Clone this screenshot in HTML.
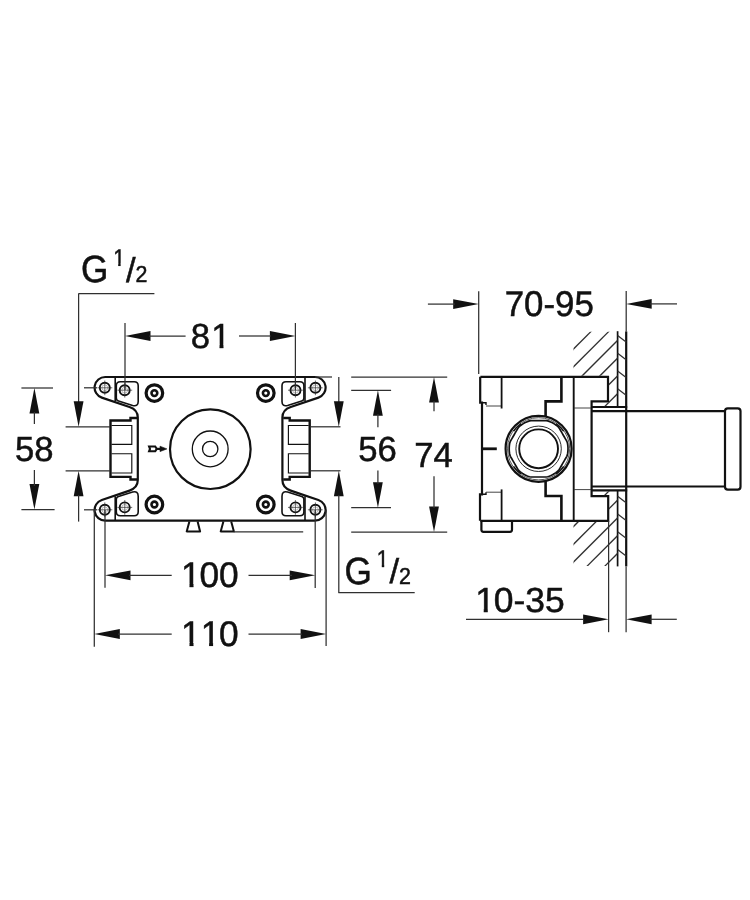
<!DOCTYPE html>
<html><head><meta charset="utf-8"><title>Dimension drawing</title>
<style>
html,body{margin:0;padding:0;background:#fff;}
body{width:750px;height:900px;overflow:hidden;}
svg{display:block;}
text{font-family:"Liberation Sans",sans-serif;fill:#111;text-rendering:geometricPrecision;}
svg{will-change:transform;}
</style></head><body>
<svg width="750" height="900" viewBox="0 0 750 900" stroke="#111" fill="none" stroke-linecap="butt">
<defs>
<clipPath id="hu"><polygon points="573.5,331.7 617.6,331.7 617.6,406.3 600,406.3 600,402.3 608.9,402.3 608.9,375.8 573.5,375.8"/></clipPath>
<clipPath id="hl"><polygon points="573.5,521.8 608.9,521.8 608.9,495.3 600,495.3 600,491.2 617.6,491.2 617.6,566 573.5,566"/></clipPath>
<clipPath id="one"><path d="M -5,-80 H 60 V -10 H 35.2 V 1.5 H 23.9 V -10 H -5 Z"/></clipPath>
<clipPath id="nut"><circle cx="538.6" cy="448.8" r="31.6"/></clipPath>
</defs>
<rect x="0" y="0" width="750" height="900" fill="#fff" stroke="none"/>
<path d="M 210.10,377.00 L 105.20,377.00 A 10.6 10.6 0 0 0 101.80,397.64 L 129.50,407.00 C 134.50,408.70 137.80,411.50 137.80,417.50 L 137.80,480.10 C 137.80,486.10 134.50,488.90 129.50,490.60 L 101.80,499.96 A 10.6 10.6 0 0 0 105.20,520.60 L 315.00,520.60 A 10.6 10.6 0 0 0 318.40,499.96 L 290.70,490.60 C 285.70,488.90 282.40,486.10 282.40,480.10 L 282.40,417.50 C 282.40,411.50 285.70,408.70 290.70,407.00 L 318.40,397.64 A 10.6 10.6 0 0 0 315.00,377.00 Z" stroke-width="2.2" fill="none" />
<line x1="115.2" y1="377.0" x2="115.2" y2="401.3" stroke-width="1.6" />
<circle cx="104.8" cy="387.8" r="5.0" stroke-width="1.9" fill="none"/>
<circle cx="104.8" cy="387.8" r="2.9" stroke-width="0.5" stroke="#777"/>
<line x1="104.8" y1="380.5" x2="104.8" y2="395.2" stroke-width="0.7"  stroke="#303030"/>
<line x1="97.5" y1="387.8" x2="112.3" y2="387.8" stroke-width="0.7"  stroke="#303030"/>
<circle cx="124.7" cy="390.2" r="5.0" stroke-width="1.9" fill="none"/>
<circle cx="124.7" cy="390.2" r="2.9" stroke-width="0.5" stroke="#777"/>
<line x1="124.8" y1="382.8" x2="124.8" y2="397.6" stroke-width="0.7"  stroke="#303030"/>
<line x1="117.4" y1="390.2" x2="132.2" y2="390.2" stroke-width="0.7"  stroke="#303030"/>
<path d="M 116.30,385.80 L 116.30,398.00 Q 116.30,400.30 118.50,401.00 L 132.60,405.50 Q 138.20,407.00 138.20,401.40 L 138.20,385.80 Q 138.20,381.80 134.20,381.80 L 120.30,381.80 Q 116.30,381.80 116.30,385.80 Z" stroke-width="1.6" fill="none" />
<circle cx="154.4" cy="393.1" r="8.3" stroke-width="3.2" fill="none"/>
<circle cx="154.4" cy="393.1" r="2.9" stroke-width="2.6" fill="none"/>
<line x1="115.2" y1="520.6" x2="115.2" y2="496.3" stroke-width="1.6" />
<circle cx="104.8" cy="509.8" r="5.0" stroke-width="1.9" fill="none"/>
<circle cx="104.8" cy="509.8" r="2.9" stroke-width="0.5" stroke="#777"/>
<line x1="104.8" y1="517.1" x2="104.8" y2="502.4" stroke-width="0.7"  stroke="#303030"/>
<line x1="97.5" y1="509.8" x2="112.3" y2="509.8" stroke-width="0.7"  stroke="#303030"/>
<circle cx="124.7" cy="507.4" r="5.0" stroke-width="1.9" fill="none"/>
<circle cx="124.7" cy="507.4" r="2.9" stroke-width="0.5" stroke="#777"/>
<line x1="124.8" y1="514.8" x2="124.8" y2="500.0" stroke-width="0.7"  stroke="#303030"/>
<line x1="117.4" y1="507.4" x2="132.2" y2="507.4" stroke-width="0.7"  stroke="#303030"/>
<path d="M 116.30,511.80 L 116.30,499.60 Q 116.30,497.30 118.50,496.60 L 132.60,492.10 Q 138.20,490.60 138.20,496.20 L 138.20,511.80 Q 138.20,515.80 134.20,515.80 L 120.30,515.80 Q 116.30,515.80 116.30,511.80 Z" stroke-width="1.6" fill="none" />
<circle cx="154.4" cy="504.5" r="8.3" stroke-width="3.2" fill="none"/>
<circle cx="154.4" cy="504.5" r="2.9" stroke-width="2.6" fill="none"/>
<line x1="305.0" y1="377.0" x2="305.0" y2="401.3" stroke-width="1.6" />
<circle cx="315.4" cy="387.8" r="5.0" stroke-width="1.9" fill="none"/>
<circle cx="315.4" cy="387.8" r="2.9" stroke-width="0.5" stroke="#777"/>
<line x1="315.4" y1="380.5" x2="315.4" y2="395.2" stroke-width="0.7"  stroke="#303030"/>
<line x1="322.7" y1="387.8" x2="307.9" y2="387.8" stroke-width="0.7"  stroke="#303030"/>
<circle cx="295.5" cy="390.2" r="5.0" stroke-width="1.9" fill="none"/>
<circle cx="295.5" cy="390.2" r="2.9" stroke-width="0.5" stroke="#777"/>
<line x1="295.4" y1="382.8" x2="295.4" y2="397.6" stroke-width="0.7"  stroke="#303030"/>
<line x1="302.8" y1="390.2" x2="288.0" y2="390.2" stroke-width="0.7"  stroke="#303030"/>
<path d="M 303.90,385.80 L 303.90,398.00 Q 303.90,400.30 301.70,401.00 L 287.60,405.50 Q 282.00,407.00 282.00,401.40 L 282.00,385.80 Q 282.00,381.80 286.00,381.80 L 299.90,381.80 Q 303.90,381.80 303.90,385.80 Z" stroke-width="1.6" fill="none" />
<circle cx="265.8" cy="393.1" r="8.3" stroke-width="3.2" fill="none"/>
<circle cx="265.8" cy="393.1" r="2.9" stroke-width="2.6" fill="none"/>
<line x1="305.0" y1="520.6" x2="305.0" y2="496.3" stroke-width="1.6" />
<circle cx="315.4" cy="509.8" r="5.0" stroke-width="1.9" fill="none"/>
<circle cx="315.4" cy="509.8" r="2.9" stroke-width="0.5" stroke="#777"/>
<line x1="315.4" y1="517.1" x2="315.4" y2="502.4" stroke-width="0.7"  stroke="#303030"/>
<line x1="322.7" y1="509.8" x2="307.9" y2="509.8" stroke-width="0.7"  stroke="#303030"/>
<circle cx="295.5" cy="507.4" r="5.0" stroke-width="1.9" fill="none"/>
<circle cx="295.5" cy="507.4" r="2.9" stroke-width="0.5" stroke="#777"/>
<line x1="295.4" y1="514.8" x2="295.4" y2="500.0" stroke-width="0.7"  stroke="#303030"/>
<line x1="302.8" y1="507.4" x2="288.0" y2="507.4" stroke-width="0.7"  stroke="#303030"/>
<path d="M 303.90,511.80 L 303.90,499.60 Q 303.90,497.30 301.70,496.60 L 287.60,492.10 Q 282.00,490.60 282.00,496.20 L 282.00,511.80 Q 282.00,515.80 286.00,515.80 L 299.90,515.80 Q 303.90,515.80 303.90,511.80 Z" stroke-width="1.6" fill="none" />
<circle cx="265.8" cy="504.5" r="8.3" stroke-width="3.2" fill="none"/>
<circle cx="265.8" cy="504.5" r="2.9" stroke-width="2.6" fill="none"/>
<path d="M 137.00,418.00 L 130.50,418.00 L 130.50,420.50 L 110.50,420.50 L 110.50,476.90 L 130.50,476.90 L 130.50,479.50 L 137.00,479.50" stroke-width="2.4" fill="none" stroke-linejoin="miter"/>
<path d="M 111.50,425.50 L 131.80,425.50 L 131.80,444.30 L 111.50,444.30" stroke-width="1.15" fill="none" />
<path d="M 111.50,453.70 L 131.80,453.70 L 131.80,473.00 L 111.50,473.00" stroke-width="1.15" fill="none" />
<path d="M 283.20,418.00 L 289.70,418.00 L 289.70,420.50 L 309.70,420.50 L 309.70,476.90 L 289.70,476.90 L 289.70,479.50 L 283.20,479.50" stroke-width="2.4" fill="none" stroke-linejoin="miter"/>
<path d="M 308.70,425.50 L 288.40,425.50 L 288.40,444.30 L 308.70,444.30" stroke-width="1.15" fill="none" />
<path d="M 308.70,453.70 L 288.40,453.70 L 288.40,473.00 L 308.70,473.00" stroke-width="1.15" fill="none" />
<ellipse cx="210.3" cy="449.2" rx="40.3" ry="39.8" stroke-width="2.2"/>
<circle cx="210.2" cy="448.9" r="17.9" stroke-width="1.3" fill="none"/>
<circle cx="210.2" cy="449.0" r="7.7" stroke-width="1.3" fill="none"/>
<path d="M 149.1,446.5 L 155.2,446.5 L 156.8,448.9 L 155.2,451.3 L 149.1,451.3 L 150.0,448.9 Z" stroke-width="2.1" fill="none" stroke-linejoin="miter"/>
<line x1="156.6" y1="448.9" x2="160.6" y2="448.9" stroke-width="2.2" />
<polygon points="160.0,446.2 166.9,448.9 160.0,451.6" fill="#111" stroke="#111" stroke-width="0.6"/>
<path d="M 189.4,521.5 L 186.7,531.4 L 200.1,531.4 L 197.6,521.5" stroke-width="2.0" fill="none" stroke-linejoin="round"/>
<path d="M 223.4,521.5 L 220.7,531.4 L 233.9,531.4 L 231.2,521.5" stroke-width="2.0" fill="none" stroke-linejoin="round"/>
<line x1="233.8" y1="531.9" x2="303.2" y2="531.9" stroke-width="1.25"  stroke="#303030"/>
<line x1="78.4" y1="293.6" x2="154.4" y2="293.6" stroke-width="1.25"  stroke="#303030"/>
<line x1="78.6" y1="293.6" x2="78.6" y2="402" stroke-width="1.25"  stroke="#303030"/>
<polygon points="78.6,426.8 73.70,401.30 83.50,401.30" fill="#111" stroke="none"/>
<line x1="65.6" y1="426.8" x2="110" y2="426.8" stroke-width="1.25"  stroke="#303030"/>
<line x1="65.6" y1="470.8" x2="110" y2="470.8" stroke-width="1.25"  stroke="#303030"/>
<polygon points="78.6,470.8 83.50,496.30 73.70,496.30" fill="#111" stroke="none"/>
<line x1="78.6" y1="495" x2="78.6" y2="521.6" stroke-width="1.25"  stroke="#303030"/>
<line x1="21.4" y1="388" x2="53" y2="388" stroke-width="1.25"  stroke="#303030"/>
<line x1="21.4" y1="509.6" x2="54.6" y2="509.6" stroke-width="1.25"  stroke="#303030"/>
<polygon points="34.4,388 39.30,413.50 29.50,413.50" fill="#111" stroke="none"/>
<line x1="34.4" y1="412" x2="34.4" y2="424" stroke-width="1.25"  stroke="#303030"/>
<polygon points="34.4,509.6 29.50,484.10 39.30,484.10" fill="#111" stroke="none"/>
<line x1="34.4" y1="470" x2="34.4" y2="486" stroke-width="1.25"  stroke="#303030"/>
<g transform="translate(15.02,461.4) scale(0.3466,0.3490)" font-size="100" stroke="#111" stroke-width="1.43">
<text x="0.00" y="0">58</text>
</g>
<line x1="84" y1="387.8" x2="97" y2="387.8" stroke-width="1.25"  stroke="#303030"/>
<line x1="84" y1="509.8" x2="97" y2="509.8" stroke-width="1.25"  stroke="#303030"/>
<line x1="125" y1="323" x2="125" y2="390" stroke-width="1.25"  stroke="#303030"/>
<line x1="295.4" y1="323" x2="295.4" y2="390" stroke-width="1.25"  stroke="#303030"/>
<polygon points="125,336 150.50,331.10 150.50,340.90" fill="#111" stroke="none"/>
<line x1="149" y1="336" x2="185.6" y2="336" stroke-width="1.25"  stroke="#303030"/>
<polygon points="295.4,336 269.90,340.90 269.90,331.10" fill="#111" stroke="none"/>
<line x1="239" y1="336" x2="271" y2="336" stroke-width="1.25"  stroke="#303030"/>
<g transform="translate(190.72,348.3) scale(0.3466,0.3490)" font-size="100" stroke="#111" stroke-width="1.43">
<text x="0.00" y="0">8</text>
<text transform="translate(59.22,0)" x="0" y="0" clip-path="url(#one)">1</text>
</g>
<line x1="315" y1="377" x2="332" y2="377" stroke-width="1.25"  stroke="#303030"/>
<line x1="338.8" y1="377" x2="338.8" y2="403" stroke-width="1.25"  stroke="#303030"/>
<polygon points="338.8,426.8 333.90,401.30 343.70,401.30" fill="#111" stroke="none"/>
<line x1="310.7" y1="426.8" x2="340.5" y2="426.8" stroke-width="1.25"  stroke="#303030"/>
<line x1="310.7" y1="470.8" x2="340.5" y2="470.8" stroke-width="1.25"  stroke="#303030"/>
<polygon points="338.8,470.8 343.70,496.30 333.90,496.30" fill="#111" stroke="none"/>
<line x1="338.8" y1="495" x2="338.8" y2="592.7" stroke-width="1.25"  stroke="#303030"/>
<line x1="338.4" y1="592.7" x2="414.7" y2="592.7" stroke-width="1.25"  stroke="#303030"/>
<line x1="351.2" y1="390.3" x2="391.1" y2="390.3" stroke-width="1.25"  stroke="#303030"/>
<line x1="351.2" y1="507.7" x2="391.0" y2="507.7" stroke-width="1.25"  stroke="#303030"/>
<polygon points="377.9,390.3 382.80,415.80 373.00,415.80" fill="#111" stroke="none"/>
<line x1="377.9" y1="414" x2="377.9" y2="427.2" stroke-width="1.25"  stroke="#303030"/>
<polygon points="377.9,507.7 373.00,482.20 382.80,482.20" fill="#111" stroke="none"/>
<line x1="377.9" y1="470.5" x2="377.9" y2="484" stroke-width="1.25"  stroke="#303030"/>
<g transform="translate(358.22,460.6) scale(0.3466,0.3490)" font-size="100" stroke="#111" stroke-width="1.43">
<text x="0.00" y="0">56</text>
</g>
<line x1="351.2" y1="377.1" x2="447.2" y2="377.1" stroke-width="1.25"  stroke="#303030"/>
<line x1="351.2" y1="532" x2="447.2" y2="532" stroke-width="1.25"  stroke="#303030"/>
<polygon points="434,377.1 438.90,402.60 429.10,402.60" fill="#111" stroke="none"/>
<line x1="434" y1="401" x2="434" y2="411.2" stroke-width="1.25"  stroke="#303030"/>
<polygon points="434,532 429.10,506.50 438.90,506.50" fill="#111" stroke="none"/>
<line x1="434" y1="476.3" x2="434" y2="508" stroke-width="1.25"  stroke="#303030"/>
<g transform="translate(414.22,466.5) scale(0.3466,0.3490)" font-size="100" stroke="#111" stroke-width="1.43">
<text x="0.00" y="0">74</text>
</g>
<line x1="105" y1="510" x2="105" y2="587.7" stroke-width="1.25"  stroke="#303030"/>
<line x1="315.2" y1="510" x2="315.2" y2="587.9" stroke-width="1.25"  stroke="#303030"/>
<polygon points="105,575.3 130.50,570.40 130.50,580.20" fill="#111" stroke="none"/>
<line x1="129" y1="575.3" x2="171.7" y2="575.3" stroke-width="1.25"  stroke="#303030"/>
<polygon points="315.2,575.3 289.70,580.20 289.70,570.40" fill="#111" stroke="none"/>
<line x1="248.5" y1="575.3" x2="292" y2="575.3" stroke-width="1.25"  stroke="#303030"/>
<g transform="translate(179.82,587.2) scale(0.3522,0.3550)" font-size="100" stroke="#111" stroke-width="1.41">
<text transform="translate(3.60,0)" x="0" y="0" clip-path="url(#one)">1</text>
<text x="55.62" y="0">00</text>
</g>
<line x1="94.3" y1="510" x2="94.3" y2="646.8" stroke-width="1.25"  stroke="#303030"/>
<line x1="326.1" y1="510" x2="326.1" y2="646" stroke-width="1.25"  stroke="#303030"/>
<polygon points="94.3,634 119.80,629.10 119.80,638.90" fill="#111" stroke="none"/>
<line x1="118" y1="634" x2="171.7" y2="634" stroke-width="1.25"  stroke="#303030"/>
<polygon points="326.1,634 300.60,638.90 300.60,629.10" fill="#111" stroke="none"/>
<line x1="248.5" y1="634" x2="302" y2="634" stroke-width="1.25"  stroke="#303030"/>
<g transform="translate(179.82,645.8) scale(0.3522,0.3550)" font-size="100" stroke="#111" stroke-width="1.41">
<text transform="translate(3.60,0)" x="0" y="0" clip-path="url(#one)">1</text>
<text transform="translate(59.22,0)" x="0" y="0" clip-path="url(#one)">1</text>
<text x="111.24" y="0">0</text>
</g>
<g transform="translate(80.90,282.3) scale(0.3517,0.3790)" font-size="100" stroke="#111" stroke-width="1.32">
<text x="0.00" y="0">G</text>
</g>
<g transform="translate(112.40,265.90000000000003) scale(0.2112,0.2400)" font-size="100" stroke="#111" stroke-width="2.08">
<text transform="translate(3.60,0)" x="0" y="0" clip-path="url(#one)">1</text>
</g>
<g transform="translate(126.00,281.6) scale(0.3460,0.3460)" font-size="100" stroke="#111" stroke-width="1.45">
<text x="0.00" y="0">/</text>
</g>
<g transform="translate(135.40,282.2) scale(0.2139,0.2300)" font-size="100" stroke="#111" stroke-width="2.17">
<text x="0.00" y="0">2</text>
</g>
<g transform="translate(344.50,583.8) scale(0.3517,0.3790)" font-size="100" stroke="#111" stroke-width="1.32">
<text x="0.00" y="0">G</text>
</g>
<g transform="translate(376.00,567.4) scale(0.2112,0.2400)" font-size="100" stroke="#111" stroke-width="2.08">
<text transform="translate(3.60,0)" x="0" y="0" clip-path="url(#one)">1</text>
</g>
<g transform="translate(389.60,583.0999999999999) scale(0.3460,0.3460)" font-size="100" stroke="#111" stroke-width="1.45">
<text x="0.00" y="0">/</text>
</g>
<g transform="translate(399.00,583.6999999999999) scale(0.2139,0.2300)" font-size="100" stroke="#111" stroke-width="2.17">
<text x="0.00" y="0">2</text>
</g>
<path d="M 480.4,376.8 L 608,376.8 L 608,401.4 L 591.6,401.4 L 591.6,496.2 L 608.2,496.2 L 608.2,520.8 L 480.4,520.8" stroke-width="2.2" fill="none" />
<path d="M 480.2,376.8 L 480.2,402.6 L 482,402.6 L 482,494.4 L 480.0,494.4 L 480.0,520.8" stroke-width="2.2" fill="none" />
<path d="M 482,402.8 L 486,402.8 L 486,405.0" stroke-width="1.4" fill="none" />
<path d="M 482,494.2 L 486,494.2 L 486,492.2" stroke-width="1.4" fill="none" />
<line x1="486" y1="406" x2="501.2" y2="406" stroke-width="0.9"  stroke="#303030"/>
<line x1="501.6" y1="376.8" x2="501.6" y2="408.5" stroke-width="1.8" />
<line x1="486" y1="492.2" x2="501.2" y2="492.2" stroke-width="0.9"  stroke="#303030"/>
<line x1="501.6" y1="489.4" x2="501.6" y2="520.8" stroke-width="1.8" />
<line x1="482" y1="448.8" x2="496.8" y2="448.8" stroke-width="2.8" />
<path d="M 561.4,376.8 L 561.4,401.4 L 545.6,401.4 L 545.6,416.6" stroke-width="2.6" fill="none" />
<path d="M 561.4,520.8 L 561.4,496.0 L 545.6,496.0 L 545.6,481.0" stroke-width="2.6" fill="none" />
<line x1="573.7" y1="376.8" x2="573.7" y2="520.8" stroke-width="1.9" />
<line x1="573.8" y1="408.0" x2="591.0" y2="408.0" stroke-width="0.9"  stroke="#303030"/>
<line x1="573.8" y1="489.6" x2="591.0" y2="489.6" stroke-width="0.9"  stroke="#303030"/>
<path d="M 481.4,520.8 L 481.4,529.8 Q 481.4,531.8 483.4,531.8 L 510,531.8 Q 512,531.8 512,529.8 L 512,520.8" stroke-width="2.2" fill="none" />
<circle cx="538.6" cy="448.8" r="33.0" stroke-width="2.2" fill="none"/>
<circle cx="538.6" cy="448.8" r="31.1" stroke-width="0.9" stroke="#444"/>
<circle cx="538.6" cy="448.8" r="22.7" stroke-width="0.9" fill="none"/>
<circle cx="538.6" cy="448.8" r="19.4" stroke-width="1.9" fill="none"/>
<polygon points="568.00,448.80 567.96,447.26 567.84,445.73 567.64,444.20 567.36,442.69 566.80,441.24 566.02,439.89 565.26,438.57 564.50,437.27 563.76,435.98 563.02,434.70 562.28,433.42 561.54,432.13 560.79,430.83 560.02,429.51 559.24,428.16 558.27,426.95 557.10,425.95 555.88,425.01 554.61,424.14 553.30,423.34 551.95,422.60 550.56,421.94 549.14,421.35 547.69,420.84 546.16,420.60 544.59,420.60 543.07,420.60 541.56,420.60 540.08,420.60 538.60,420.60 537.12,420.60 535.64,420.60 534.13,420.60 532.61,420.60 531.04,420.60 529.51,420.84 528.06,421.35 526.64,421.94 525.25,422.60 523.90,423.34 522.59,424.14 521.32,425.01 520.10,425.95 518.93,426.95 517.96,428.16 517.18,429.51 516.41,430.83 515.66,432.13 514.92,433.42 514.18,434.70 513.44,435.98 512.70,437.27 511.94,438.57 511.18,439.89 510.40,441.24 509.84,442.69 509.56,444.20 509.36,445.73 509.24,447.26 509.20,448.80 509.24,450.34 509.36,451.87 509.56,453.40 509.84,454.91 510.40,456.36 511.18,457.71 511.94,459.03 512.70,460.33 513.44,461.62 514.18,462.90 514.92,464.18 515.66,465.47 516.41,466.77 517.18,468.09 517.96,469.44 518.93,470.65 520.10,471.65 521.32,472.59 522.59,473.46 523.90,474.26 525.25,475.00 526.64,475.66 528.06,476.25 529.51,476.76 531.04,477.00 532.61,477.00 534.13,477.00 535.64,477.00 537.12,477.00 538.60,477.00 540.08,477.00 541.56,477.00 543.07,477.00 544.59,477.00 546.16,477.00 547.69,476.76 549.14,476.25 550.56,475.66 551.95,475.00 553.30,474.26 554.61,473.46 555.88,472.59 557.10,471.65 558.27,470.65 559.24,469.44 560.02,468.09 560.79,466.77 561.54,465.47 562.28,464.18 563.02,462.90 563.76,461.62 564.50,460.33 565.26,459.03 566.02,457.71 566.80,456.36 567.36,454.91 567.64,453.40 567.84,451.87 567.96,450.34" stroke-width="1.7" stroke-linejoin="round"/>
<path d="M 563.67,431.25 A 30.6 30.6 0 0 0 556.15,423.73" stroke-width="1.4" fill="none" />
<path d="M 521.05,423.73 A 30.6 30.6 0 0 0 513.53,431.25" stroke-width="1.4" fill="none" />
<path d="M 513.53,466.35 A 30.6 30.6 0 0 0 521.05,473.87" stroke-width="1.4" fill="none" />
<path d="M 556.15,473.87 A 30.6 30.6 0 0 0 563.67,466.35" stroke-width="1.4" fill="none" />
<line x1="591.6" y1="411.1" x2="725" y2="411.1" stroke-width="2.2" />
<line x1="591.6" y1="486.5" x2="725" y2="486.5" stroke-width="2.2" />
<line x1="626.2" y1="407.0" x2="626.2" y2="490.4" stroke-width="2.2" />
<rect x="725" y="408.3" width="15.5" height="81.3" rx="2.8" ry="2.8" fill="none" stroke-width="2.2"/>
<line x1="591.6" y1="407.0" x2="627.2" y2="407.0" stroke-width="2.2" />
<line x1="591.6" y1="490.4" x2="627.2" y2="490.4" stroke-width="2.2" />
<line x1="626.2" y1="331.5" x2="626.2" y2="407.0" stroke-width="2.2" />
<line x1="617.6" y1="331.2" x2="617.6" y2="407.0" stroke-width="1.7" />
<line x1="626.2" y1="490.4" x2="626.2" y2="566.4" stroke-width="2.2" />
<line x1="617.6" y1="490.4" x2="617.6" y2="566.4" stroke-width="1.7" />
<g clip-path="url(#hu)">
<line x1="560" y1="362.5" x2="640" y2="282.5" stroke-width="1.25"  stroke="#303030"/>
<line x1="560" y1="380.25" x2="640" y2="300.25" stroke-width="1.25"  stroke="#303030"/>
<line x1="560" y1="398.0" x2="640" y2="318.0" stroke-width="1.25"  stroke="#303030"/>
<line x1="560" y1="415.75" x2="640" y2="335.75" stroke-width="1.25"  stroke="#303030"/>
<line x1="560" y1="433.5" x2="640" y2="353.5" stroke-width="1.25"  stroke="#303030"/>
<line x1="560" y1="451.25" x2="640" y2="371.25" stroke-width="1.25"  stroke="#303030"/>
<line x1="560" y1="469.0" x2="640" y2="389.0" stroke-width="1.25"  stroke="#303030"/>
</g>
<g clip-path="url(#hl)">
<line x1="560" y1="504.5" x2="640" y2="424.5" stroke-width="1.25"  stroke="#303030"/>
<line x1="560" y1="522.25" x2="640" y2="442.25" stroke-width="1.25"  stroke="#303030"/>
<line x1="560" y1="540.0" x2="640" y2="460.0" stroke-width="1.25"  stroke="#303030"/>
<line x1="560" y1="557.75" x2="640" y2="477.75" stroke-width="1.25"  stroke="#303030"/>
<line x1="560" y1="575.5" x2="640" y2="495.5" stroke-width="1.25"  stroke="#303030"/>
<line x1="560" y1="593.25" x2="640" y2="513.25" stroke-width="1.25"  stroke="#303030"/>
<line x1="560" y1="611.0" x2="640" y2="531.0" stroke-width="1.25"  stroke="#303030"/>
<line x1="560" y1="628.75" x2="640" y2="548.75" stroke-width="1.25"  stroke="#303030"/>
</g>
<line x1="617.6" y1="335.5" x2="626.1" y2="342.0" stroke-width="1.25"  stroke="#303030"/>
<line x1="617.6" y1="353.25" x2="626.1" y2="359.75" stroke-width="1.25"  stroke="#303030"/>
<line x1="617.6" y1="371.0" x2="626.1" y2="377.5" stroke-width="1.25"  stroke="#303030"/>
<line x1="617.6" y1="388.75" x2="626.1" y2="395.25" stroke-width="1.25"  stroke="#303030"/>
<line x1="617.6" y1="496.25" x2="626.1" y2="502.75" stroke-width="1.25"  stroke="#303030"/>
<line x1="617.6" y1="514.0" x2="626.1" y2="520.5" stroke-width="1.25"  stroke="#303030"/>
<line x1="617.6" y1="531.75" x2="626.1" y2="538.25" stroke-width="1.25"  stroke="#303030"/>
<line x1="617.6" y1="549.5" x2="626.1" y2="556.0" stroke-width="1.25"  stroke="#303030"/>
<line x1="478.7" y1="291.3" x2="478.7" y2="374" stroke-width="1.25"  stroke="#303030"/>
<line x1="626.2" y1="290.9" x2="626.2" y2="331.7" stroke-width="1.25"  stroke="#303030"/>
<polygon points="478.7,304.1 453.20,309.00 453.20,299.20" fill="#111" stroke="none"/>
<line x1="427.9" y1="304.1" x2="455" y2="304.1" stroke-width="1.25"  stroke="#303030"/>
<polygon points="626.2,303.9 651.70,299.00 651.70,308.80" fill="#111" stroke="none"/>
<line x1="650" y1="303.9" x2="677" y2="303.9" stroke-width="1.25"  stroke="#303030"/>
<g transform="translate(504.68,316.2) scale(0.3489,0.3560)" font-size="100" stroke="#111" stroke-width="1.40">
<text x="0.00" y="0">70-95</text>
</g>
<line x1="608.6" y1="520.8" x2="608.6" y2="632.2" stroke-width="1.25"  stroke="#303030"/>
<line x1="626.1" y1="566.4" x2="626.1" y2="632.2" stroke-width="1.25"  stroke="#303030"/>
<polygon points="608.6,619.3 583.10,624.20 583.10,614.40" fill="#111" stroke="none"/>
<line x1="466" y1="619.3" x2="584" y2="619.3" stroke-width="1.25"  stroke="#303030"/>
<polygon points="626.1,619.3 651.60,614.40 651.60,624.20" fill="#111" stroke="none"/>
<line x1="650" y1="619.3" x2="676.8" y2="619.3" stroke-width="1.25"  stroke="#303030"/>
<g transform="translate(474.00,612.4) scale(0.3542,0.3490)" font-size="100" stroke="#111" stroke-width="1.43">
<text transform="translate(3.60,0)" x="0" y="0" clip-path="url(#one)">1</text>
<text x="55.62" y="0">0-35</text>
</g>
</svg>
</body></html>
